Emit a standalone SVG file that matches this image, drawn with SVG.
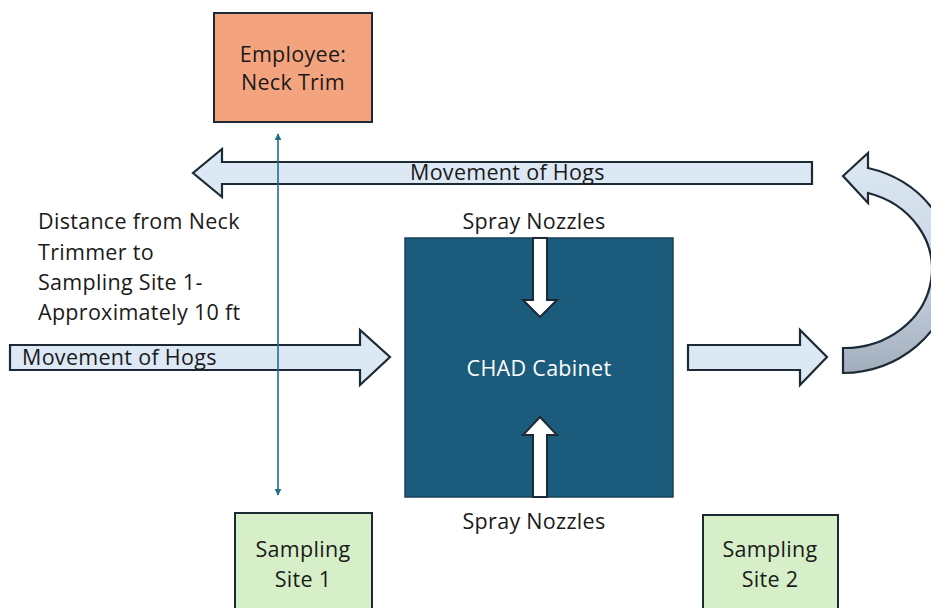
<svg xmlns="http://www.w3.org/2000/svg" width="931" height="608" viewBox="0 0 931 608">
<style>
text{font-family:"Open Sans","Noto Sans",sans-serif;font-size:21.5px;letter-spacing:0.3px;fill:#1a1a1a}
.box{stroke:#1c2a36;stroke-width:2}
.flow{fill:#dce8f4;stroke:#1c2a36;stroke-width:2.2;stroke-linejoin:miter}
.spray{fill:#ffffff;stroke:#1c2a36;stroke-width:2}
.c{text-anchor:middle}
</style>
<defs>
<linearGradient id="arcg" x1="0" y1="0" x2="0" y2="1">
<stop offset="0" stop-color="#dce8f4"/>
<stop offset="0.55" stop-color="#c8d4e2"/>
<stop offset="1" stop-color="#a3aebc"/>
</linearGradient>
<marker id="ah" viewBox="0 0 10 10" refX="9" refY="5" markerWidth="7" markerHeight="7" orient="auto-start-reverse" markerUnits="userSpaceOnUse">
<path d="M0,0 L10,5 L0,10 z" fill="#1f6e8c"/>
</marker>
</defs>
<rect width="931" height="608" fill="#ffffff"/>
<g id="employee">
<rect class="box" x="214" y="13" width="158" height="109" fill="#f3a47f"/>
<text class="c" x="293" y="62">Employee:</text>
<text class="c" x="293" y="90">Neck Trim</text>
</g>
<g id="cabinet">
<rect x="405" y="238" width="268" height="259" fill="#1b5c7c" stroke="#17405a" stroke-width="1.5"/>
<text class="c" x="539" y="376" style="fill:#ffffff">CHAD Cabinet</text>
</g>
<g id="site1">
<rect class="box" x="235" y="513" width="137" height="100" fill="#d6efc9"/>
<text class="c" x="303" y="557">Sampling</text>
<text class="c" x="303" y="587">Site 1</text>
</g>
<g id="site2">
<rect class="box" x="703" y="515" width="135" height="100" fill="#d6efc9"/>
<text class="c" x="770" y="557">Sampling</text>
<text class="c" x="770" y="587">Site 2</text>
</g>
<g id="labels">
<text x="38" y="229">Distance from Neck</text>
<text x="38" y="260">Trimmer to</text>
<text x="38" y="290">Sampling Site 1-</text>
<text x="38" y="320">Approximately 10 ft</text>
<text class="c" x="534" y="229">Spray Nozzles</text>
<text class="c" x="534" y="529">Spray Nozzles</text>
</g>
<g id="connectors">
<path class="flow" d="M812,162 L222,162 L222,149 L193,173 L222,197 L222,184 L812,184 Z"/>
<text x="410" y="180">Movement of Hogs</text>
<path class="flow" d="M10,345 L360,345 L360,330 L390,357 L360,385 L360,370 L10,370 Z"/>
<text x="22" y="365">Movement of Hogs</text>
<path class="flow" d="M688,345 L800,345 L800,330 L827,357 L800,385 L800,370 L688,370 Z"/>
<path d="M843,373 A112,104 0 0 0 868,168 L868,153 L843,176 L868,203 L868,193 A88,79 0 0 1 843,348 Z" fill="url(#arcg)" stroke="#1c2a36" stroke-width="2.2"/>
<path class="spray" d="M533,238 L547,238 L547,300 L557,300 L540,317 L523,300 L533,300 Z"/>
<path class="spray" d="M533,497 L547,497 L547,435 L557,435 L540,417 L523,435 L533,435 Z"/>
<line x1="278" y1="134" x2="278" y2="495" stroke="#1f6e8c" stroke-width="1.6" marker-start="url(#ah)" marker-end="url(#ah)"/>
</g>
</svg>
